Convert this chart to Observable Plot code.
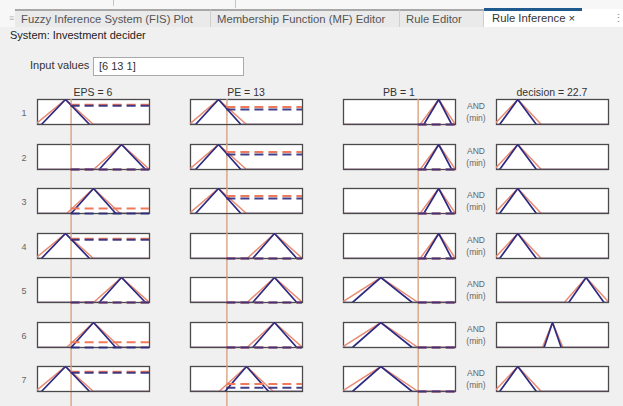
<!DOCTYPE html>
<html><head><meta charset="utf-8">
<script src="https://cdn.jsdelivr.net/npm/d3@7"></script>
<script src="https://cdn.jsdelivr.net/npm/@observablehq/plot@0.6"></script>
<style>
html,body{margin:0;padding:0;}
body{width:623px;height:406px;overflow:hidden;background:#f0f0f0;font-family:"Liberation Sans",Arial,sans-serif;position:relative;}
.abs{position:absolute;white-space:nowrap;}
.c{transform:translate(-50%,-50%);}
.tab{position:absolute;top:9px;height:16px;background:#eaeaea;border-top:2px solid #a8a8a8;border-right:1px solid #cfcfcf;font-size:11.3px;color:#555;line-height:17px;box-sizing:content-box;}
.tab span{position:absolute;left:6px;top:0;}
svg{display:block;}
</style></head><body>
<script>
// ---------- data ----------
const inputNames = ["EPS", "PE", "PB"];
const inputValues = [6, 13, 1];
const outputName = "decision";
const outputValue = 22.7;
const ruleIds = [1, 2, 3, 4, 5, 6, 7];

const epsDomain = [0, 20];
const peDomain = [0, 40];
const pbDomain = [-1, 2];
const decisionDomain = [0, 100];

// triangular MFs [a, b, c]; upper (orange) and lower (navy)
// EPS: low, medium, high
const epsUpper = [[-0.4, 5, 10], [5.2, 10, 14.8], [10, 15, 20]];
const epsLower = [[0.7, 5, 9.3], [6, 10, 14], [11, 15, 19.3]];
// PE: low, medium, high
const peUpper = [[-0.5, 10, 20], [10.2, 20, 29.6], [20.2, 30, 40]];
const peLower = [[1.8, 10, 18], [12.3, 20, 27.9], [22.2, 30, 38]];
// PB: low, high
const pbUpper = [[-1.05, 0, 1], [1.05, 1.55, 2]];
const pbLower = [[-0.76, 0, 0.84], [1.15, 1.55, 1.9]];
// decision: low, medium, high
const decUpper = [[-2, 19, 40], [41, 50, 59.3], [60.5, 80, 100.5]];
const decLower = [[2.8, 19, 35.6], [42.5, 50, 57.8], [64.5, 80, 96]];

// rule antecedents / consequent (MF index)
const ruleEPS = [0, 2, 1, 0, 2, 1, 0];
const rulePE = [0, 0, 0, 2, 2, 2, 1];
const rulePB = [1, 1, 1, 1, 0, 0, 0];
const ruleDecision = [0, 0, 0, 0, 2, 1, 0];

// membership grades read at the inputs (upper, lower)
const epsFireUpper = [0.79, 0, 0.2, 0.79, 0, 0.21, 0.79];
const epsFireLower = [0.75, 0, 0, 0.75, 0, 0, 0.75];
const peFireUpper = [0.7, 0.7, 0.7, 0, 0, 0, 0.3];
const peFireLower = [0.6, 0.6, 0.6, 0, 0, 0, 0.15];
const pbFireUpper = [0, 0, 0, 0, 0, 0, 0];
const pbFireLower = [0, 0, 0, 0, 0, 0, 0];

// ---------- style ----------
const NAVY = "#2c2a82", ORANGE = "#ea8a70", VLINE = "#d9a382";
const DASH_O = "#ef7a5b", DASH_N = "#2d2a7c", FRAME = "#4a4a4a";

// ---------- page chrome ----------
function el(html, style, cls) {
  const d = document.createElement("div");
  d.className = "abs " + (cls || "");
  d.innerHTML = html;
  Object.assign(d.style, style);
  document.body.appendChild(d);
  return d;
}
el("", {left: "0px", top: "0px", width: "623px", height: "27px", background: "#f7f7f7"});
el("", {left: "113px", top: "0px", width: "1px", height: "6px", background: "#c4c4c4"});
el("", {left: "235px", top: "0px", width: "1px", height: "8px", background: "#c4c4c4"});
el("≡", {left: "9px", top: "13px", fontSize: "9px", color: "#b5b5b5"});
const tabs = [["Fuzzy Inference System (FIS) Plot", 15, 196], ["Membership Function (MF) Editor", 211, 189], ["Rule Editor", 400, 84]];
for (const [t, x, w] of tabs) {
  const d = document.createElement("div");
  d.className = "tab"; d.style.left = x + "px"; d.style.width = (w - 1) + "px";
  d.innerHTML = `<span>${t}</span>`;
  document.body.appendChild(d);
}
el("", {left: "484px", top: "9px", width: "139px", height: "18px", background: "#ffffff"});
el("", {left: "484px", top: "8px", width: "98px", height: "3px", background: "#1f5a8e"});
el("Rule Inference ×", {left: "492px", top: "12px", fontSize: "11.3px", color: "#333"});
el("⋮", {left: "613px", top: "12px", fontSize: "11px", color: "#8a8a8a"});
el("System: Investment decider", {left: "10px", top: "29px", fontSize: "11px", color: "#222"});
el("Input values", {left: "30px", top: "59px", fontSize: "11px", color: "#333"});
el("[6 13 1]", {left: "93px", top: "57px", width: "144px", height: "17px", background: "#fff", border: "1px solid #a9a9a9", fontSize: "11px", color: "#333", paddingLeft: "5px", lineHeight: "17px"});

// ---------- panels ----------
const columns = [
  {title: `${inputNames[0]} = ${inputValues[0]}`, domain: epsDomain, upper: epsUpper, lower: epsLower, idx: ruleEPS, input: inputValues[0], fU: epsFireUpper, fL: epsFireLower},
  {title: `${inputNames[1]} = ${inputValues[1]}`, domain: peDomain, upper: peUpper, lower: peLower, idx: rulePE, input: inputValues[1], fU: peFireUpper, fL: peFireLower},
  {title: `${inputNames[2]} = ${inputValues[2]}`, domain: pbDomain, upper: pbUpper, lower: pbLower, idx: rulePB, input: inputValues[2], fU: pbFireUpper, fL: pbFireLower},
  {title: `${outputName} = ${outputValue}`, domain: decisionDomain, upper: decUpper, lower: decLower, idx: ruleDecision, input: null}
];

const PW = 112, PH = 25, M = 2;
const colLeft = c => 37 + 153 * c;
const rowTop = r => Math.round(99 + 44.5 * r);

function mfPoints(tri, dom) {
  return [[dom[0], 0], [tri[0], 0], [tri[1], 1], [tri[2], 0], [dom[1], 0]].map(([x, y]) => ({x, y}));
}

function place(node, left, top, z) {
  const w = document.createElement("div");
  w.className = "abs";
  Object.assign(w.style, {left: left + "px", top: top + "px", zIndex: z});
  w.appendChild(node);
  document.body.appendChild(w);
}

columns.forEach((col, c) => {
  const L = colLeft(c);
  el(col.title, {left: (L + PW / 2) + "px", top: "92px", fontSize: "10.5px", color: "#333"}, "c");
  if (col.input != null) {
    const vl = Plot.plot({
      width: PW + 2 * M, height: 406 - (rowTop(0)),
      marginLeft: M, marginRight: M, marginTop: 0, marginBottom: 0,
      style: {background: "transparent"},
      x: {domain: col.domain, axis: null},
      marks: [Plot.ruleX([col.input], {stroke: VLINE, strokeWidth: 1.4})]
    });
    place(vl, L - M, rowTop(0), 1);
  }
  ruleIds.forEach((rid, r) => {
    const k = col.idx[r];
    const marks = [Plot.frame({fill: "white", stroke: FRAME, strokeWidth: 1.3})];
    if (col.input != null) marks.push(Plot.ruleX([col.input], {stroke: VLINE, strokeWidth: 1.4}));
    marks.push(Plot.line(mfPoints(col.upper[k], col.domain), {x: "x", y: "y", stroke: ORANGE, strokeWidth: 1.5, clip: true}));
    marks.push(Plot.line(mfPoints(col.lower[k], col.domain), {x: "x", y: "y", stroke: NAVY, strokeWidth: 1.7, clip: true}));
    if (col.input != null) {
      marks.push(Plot.ruleY([{v: col.fU[r], x1: col.input, x2: col.domain[1]}], {y: "v", x1: "x1", x2: "x2", stroke: DASH_O, strokeWidth: 2, strokeDasharray: "9,5"}));
      marks.push(Plot.ruleY([{v: col.fL[r], x1: col.input, x2: col.domain[1]}], {y: "v", x1: "x1", x2: "x2", stroke: DASH_N, strokeWidth: 2, strokeDasharray: "9,5", strokeOpacity: 0.9}));
    }
    const p = Plot.plot({
      width: PW + 2 * M, height: PH + 2 * M, margin: M,
      style: {background: "transparent", overflow: "visible"},
      x: {domain: col.domain, axis: null},
      y: {domain: [0, 1], axis: null},
      marks
    });
    place(p, L - M, rowTop(r) - M, 2);
    if (c === 0) el(String(rid), {left: "24px", top: (rowTop(r) + PH / 2 + 1) + "px", fontSize: "9px", color: "#666"}, "c");
    if (c === 3) {
      el("AND", {left: "476px", top: (rowTop(r) + 7) + "px", fontSize: "8.5px", color: "#666"}, "c");
      el("(min)", {left: "476px", top: (rowTop(r) + 19) + "px", fontSize: "8.5px", color: "#666"}, "c");
    }
  });
});
</script>
</body></html>
